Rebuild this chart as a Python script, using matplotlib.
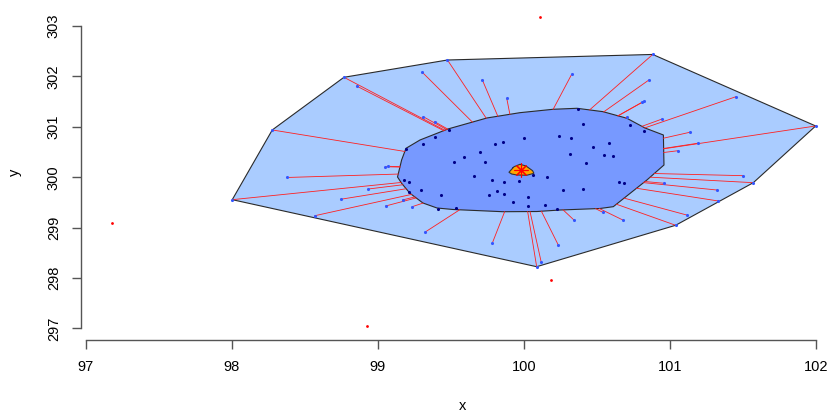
import numpy as np
import matplotlib.pyplot as plt

plt.rcParams['font.family'] = ['Liberation Sans', 'DejaVu Sans']

# observations inside the bag
bag_x = [99.486, 99.390, 99.308, 99.195, 99.521, 99.591, 99.699, 99.735, 99.801, 99.858,
         100.001, 100.242, 100.322, 100.406, 100.372, 100.723, 100.825, 100.584, 100.474, 100.315,
         100.550, 100.608, 100.425, 99.660, 99.779, 99.865, 99.966, 100.062, 100.155, 99.923,
         99.295, 99.429, 99.760, 99.815, 99.863, 99.927, 100.029, 100.029, 100.145, 100.229,
         100.264, 100.406, 99.409, 99.532, 100.652, 100.687, 99.178, 99.210, 99.214]
bag_y = [300.937, 300.804, 300.653, 300.569, 300.302, 300.395, 300.506, 300.302, 300.653, 300.692,
         300.784, 300.808, 300.772, 301.056, 301.347, 301.040, 300.923, 300.673, 300.605, 300.460,
         300.435, 300.421, 300.276, 300.030, 299.954, 299.899, 299.925, 300.048, 300.010, 300.177,
         299.736, 299.651, 299.637, 299.732, 299.667, 299.514, 299.601, 299.435, 299.452, 299.359,
         299.746, 299.772, 299.369, 299.383, 299.899, 299.879, 299.954, 299.895, 299.712]

# observations between bag and fence
loop_x = [98.002, 98.276, 98.767, 98.853, 99.305, 99.476, 99.714, 99.882, 100.327, 100.882,
          100.858, 100.825, 100.810, 100.703, 100.943, 101.452, 101.139, 101.194, 101.057, 101.998,
          101.502, 101.571, 100.961, 101.320, 101.331, 101.114, 101.039, 100.677, 100.538, 100.342,
          100.235, 100.118, 100.087, 99.784, 99.322, 99.235, 99.169, 99.053, 98.935, 98.745,
          98.568, 98.375, 99.051, 99.068, 99.310, 99.388]
loop_y = [299.554, 300.937, 301.982, 301.810, 302.077, 302.325, 301.935, 301.565, 302.042, 302.435,
          301.933, 301.512, 301.486, 301.190, 301.151, 301.597, 300.893, 300.675, 300.526, 301.016,
          300.030, 299.891, 299.879, 299.746, 299.528, 299.250, 299.046, 299.151, 299.306, 299.151,
          298.655, 298.317, 298.224, 298.698, 298.909, 299.415, 299.548, 299.429, 299.766, 299.562,
          299.236, 299.994, 300.208, 300.216, 301.200, 301.101]

# outliers
out_x = [100.110, 97.178, 100.185, 98.925]
out_y = [303.179, 299.091, 297.960, 297.048]

# bag polygon
bag_hull_x = [99.134, 99.162, 99.192, 99.288, 99.479, 99.747, 99.973, 100.199, 100.363, 100.541,
              100.705, 100.829, 100.955, 100.959, 100.842, 100.612, 100.521, 100.247, 100.089, 99.856,
              99.514, 99.404, 99.308, 99.219, 99.162]
bag_hull_y = [300.004, 300.341, 300.573, 300.738, 300.956, 301.175, 301.280, 301.347, 301.367, 301.300,
              301.169, 300.976, 300.837, 300.242, 299.944, 299.415, 299.379, 299.349, 299.319, 299.315,
              299.359, 299.389, 299.488, 299.681, 299.879]

# depth median region and centre
center_x = [99.897, 99.932, 99.973, 100.014, 100.059, 100.068, 100.019, 99.950, 99.916]
center_y = [300.097, 300.208, 300.256, 300.222, 300.129, 300.077, 300.038, 300.044, 300.063]
median_x, median_y = 99.979, 300.137


def convex_hull(pts):
    pts = sorted(set(map(tuple, pts)))

    def cross(o, a, b):
        return (a[0] - o[0]) * (b[1] - o[1]) - (a[1] - o[1]) * (b[0] - o[0])
    lower, upper = [], []
    for p in pts:
        while len(lower) >= 2 and cross(lower[-2], lower[-1], p) <= 0:
            lower.pop()
        lower.append(p)
    for p in reversed(pts):
        while len(upper) >= 2 and cross(upper[-2], upper[-1], p) <= 0:
            upper.pop()
        upper.append(p)
    return np.array(lower[:-1] + upper[:-1])


def ray_hit(c, p, poly):
    # where the segment centre -> p leaves the bag polygon
    best = None
    n = len(poly)
    d = p - c
    for i in range(n):
        a, b = poly[i], poly[(i + 1) % n]
        e = b - a
        den = d[0] * (-e[1]) + e[0] * d[1]
        if abs(den) < 1e-12:
            continue
        r = a - c
        t = (r[0] * (-e[1]) + e[0] * r[1]) / den
        u = (d[0] * r[1] - d[1] * r[0]) / den
        if 0 <= t <= 1 and 0 <= u <= 1:
            if best is None or t > best:
                best = t
    return c + best * d if best is not None else c


fig = plt.figure(figsize=(8.29, 4.15), dpi=100)
xlim = (96.966, 102.19)
ylim = (296.77, 303.42)
ax = fig.add_axes([81 / 829, 75 / 415, (843.7 - 81) / 829, (340 - 4.8) / 415])

inner = np.column_stack([bag_x + loop_x, bag_y + loop_y])
loop_hull = convex_hull(inner)
bag_poly = np.column_stack([bag_hull_x, bag_hull_y])
c = np.array([median_x, median_y])

ax.fill(loop_hull[:, 0], loop_hull[:, 1], facecolor='#aaccff', edgecolor='#2a2a2a', lw=0.8, zorder=1)
ax.fill(bag_hull_x, bag_hull_y, facecolor='#7799ff', edgecolor='#2a2a2a', lw=0.8, zorder=2)

for px, py in zip(loop_x, loop_y):
    p = np.array([px, py])
    q = ray_hit(c, p, bag_poly)
    ax.plot([q[0], p[0]], [q[1], p[1]], color='#ff2020', lw=0.6, zorder=3)

ax.scatter(bag_x, bag_y, s=5, color='#000088', zorder=4, linewidths=0)
ax.scatter(loop_x, loop_y, s=5, color='#3355ff', zorder=4, linewidths=0)
ax.fill(center_x, center_y, facecolor='orange', edgecolor='#333333', lw=0.8, zorder=5)
ax.plot(median_x, median_y, marker=(8, 2, 0), color='red', markersize=10, mew=0.8, zorder=6)
ax.scatter(out_x, out_y, s=4, color='red', zorder=4, linewidths=0)

ax.set_xlim(*xlim)
ax.set_ylim(*ylim)
ax.spines['top'].set_visible(False)
ax.spines['right'].set_visible(False)
ax.spines['left'].set_bounds(297, 303)
ax.spines['bottom'].set_bounds(97, 102)
for s in ('left', 'bottom'):
    ax.spines[s].set_color('#555555')
    ax.spines[s].set_linewidth(1)
ax.set_xticks([97, 98, 99, 100, 101, 102])
ax.set_yticks([297, 298, 299, 300, 301, 302, 303])
ax.tick_params(length=6.5, width=1, color='#555555', labelsize=10.5, pad=8)
plt.setp(ax.get_yticklabels(), rotation=90, va='center')
ax.set_xlabel('x', fontsize=10.5)
ax.set_ylabel('y', fontsize=10.5)
ax.xaxis.set_label_coords(0.5, -0.175)
ax.yaxis.set_label_coords(-0.078, 0.5)

fig.savefig('out.png', dpi=100)
